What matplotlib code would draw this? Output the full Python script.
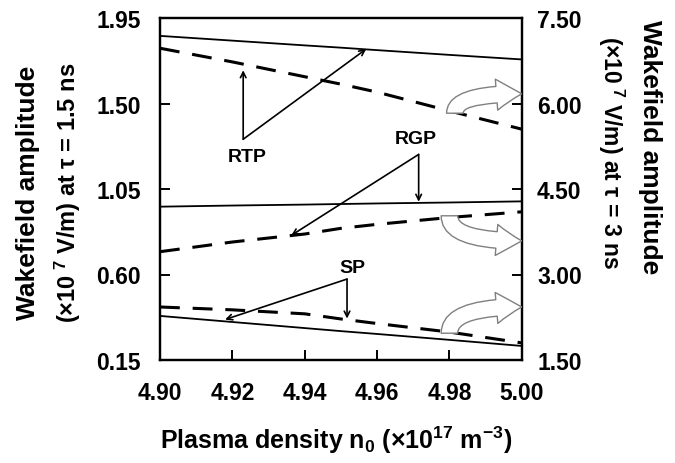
import matplotlib
matplotlib.use("Agg")
import matplotlib.pyplot as plt
from matplotlib.patches import FancyArrowPatch

plt.rcParams['font.family'] = ['Liberation Sans', 'DejaVu Sans']
plt.rcParams['font.weight'] = 'bold'
plt.rcParams['mathtext.fontset'] = 'custom'
plt.rcParams['mathtext.rm'] = 'Liberation Sans:bold'
plt.rcParams['mathtext.it'] = 'Liberation Sans:bold'
plt.rcParams['mathtext.bf'] = 'Liberation Sans:bold'
plt.rcParams['mathtext.default'] = 'rm'

# ---- data ----
density = [4.90, 4.92, 4.94, 4.95, 4.96, 4.98, 5.00]

# solid lines: left axis (tau = 1.5 ns)
rtp_15 = [1.856, 1.831, 1.806, 1.794, 1.781, 1.756, 1.732]
rgp_15 = [0.957, 0.963, 0.968, 0.971, 0.974, 0.979, 0.985]
sp_15 = [0.382, 0.350, 0.318, 0.302, 0.287, 0.256, 0.224]

# dashed lines: right axis (tau = 3 ns)
rtp_3 = [6.97, 6.73, 6.47, 6.34, 6.20, 5.87, 5.55]
rgp_3 = [3.40, 3.57, 3.71, 3.81, 3.88, 4.00, 4.10]
sp_3 = [2.43, 2.38, 2.31, 2.22, 2.14, 1.99, 1.80]

xticks = [4.90, 4.92, 4.94, 4.96, 4.98, 5.00]
left_ticks = [0.15, 0.60, 1.05, 1.50, 1.95]
right_ticks = [1.50, 3.00, 4.50, 6.00, 7.50]

fig = plt.figure(figsize=(6.75, 4.64), dpi=100)
ax = fig.add_axes([0.237, 0.222, 0.536, 0.737])
ax2 = ax.twinx()

solid_kw = dict(color='black', lw=1.3)
dash_kw = dict(color='black', lw=2.2, dashes=(6.5, 4.2))

ax.plot(density, rtp_15, **solid_kw)
ax.plot(density, rgp_15, **solid_kw)
ax.plot(density, sp_15, **solid_kw)
ax2.plot(density, rtp_3, **dash_kw)
ax2.plot(density, rgp_3, **dash_kw)
ax2.plot(density, sp_3, **dash_kw)

ax.set_xlim(4.90, 5.00)
ax.set_ylim(0.15, 1.95)
ax2.set_ylim(1.50, 7.50)
ax.set_xticks(xticks)
ax.set_xticklabels([f"{v:.2f}" for v in xticks])
ax.set_yticks(left_ticks)
ax.set_yticklabels([f"{v:.2f}" for v in left_ticks])
ax2.set_yticks(right_ticks)
ax2.set_yticklabels([f"{v:.2f}" for v in right_ticks])

for a in (ax, ax2):
    for s in a.spines.values():
        s.set_linewidth(1.6)
ax.tick_params(axis='x', direction='in', length=7, width=1.4, pad=15, labelsize=16.5)
ax.tick_params(axis='y', direction='in', length=7, width=1.4, pad=14, labelsize=16.5)
ax2.tick_params(axis='y', direction='in', length=7, width=1.4, pad=11, labelsize=16.5)

# annotations (left-axis data coords)
ap = dict(arrowstyle='->', lw=1.2, color='black', shrinkA=0, shrinkB=0)
ax.text(4.924, 1.222, 'RTP', ha='center', va='center', fontsize=14, fontweight='bold')
ax.annotate('', xy=(4.923, 1.675), xytext=(4.923, 1.312), arrowprops=ap)
ax.annotate('', xy=(4.957, 1.787), xytext=(4.923, 1.312), arrowprops=ap)

ax.text(4.9706, 1.318, 'RGP', ha='center', va='center', fontsize=14, fontweight='bold')
ax.annotate('', xy=(4.9715, 0.983), xytext=(4.9715, 1.232), arrowprops=ap)
ax.annotate('', xy=(4.9363, 0.806), xytext=(4.9715, 1.232), arrowprops=ap)

ax.text(4.9531, 0.638, 'SP', ha='center', va='center', fontsize=14, fontweight='bold')
ax.annotate('', xy=(4.9517, 0.368), xytext=(4.9517, 0.576), arrowprops=ap)
ax.annotate('', xy=(4.918, 0.363), xytext=(4.9517, 0.576), arrowprops=ap)

# hollow curved arrows pointing to right axis (right-axis data coords)
hollow = [((4.9815, 5.83), (5.000, 6.17)),
          ((4.9800, 4.03), (5.000, 3.59)),
          ((4.9800, 1.97), (5.000, 2.43))]
for start, end in hollow:
    arr = FancyArrowPatch(start, end, transform=ax2.transData,
                          arrowstyle='simple,head_length=1.3,head_width=1.6,tail_width=0.85',
                          connectionstyle='angle3,angleA=90,angleB=0',
                          mutation_scale=14, fc='white', ec='#808080', lw=1.0,
                          shrinkA=0, shrinkB=0, zorder=5)
    ax2.add_patch(arr)

# axis labels
fig.text(0.041, 0.585, 'Wakefield amplitude', rotation=90, ha='center', va='center',
         fontsize=19, fontweight='bold')
fig.text(0.100, 0.585, r'(×10$^{\ 7}$ V/m) at τ = 1.5 ns', rotation=90, ha='center', va='center',
         fontsize=17, fontweight='bold')
fig.text(0.963, 0.682, 'Wakefield amplitude', rotation=270, ha='center', va='center',
         fontsize=19, fontweight='bold')
fig.text(0.906, 0.672, r'(×10$^{\ 7}$ V/m) at τ = 3 ns', rotation=270, ha='center', va='center',
         fontsize=16.5, fontweight='bold')
fig.text(0.498, 0.052, r'Plasma density n$_0$ (×10$^{17}$ m$^{-3}$)', ha='center', va='center',
         fontsize=18, fontweight='bold')

fig.savefig('out.png', dpi=100)
